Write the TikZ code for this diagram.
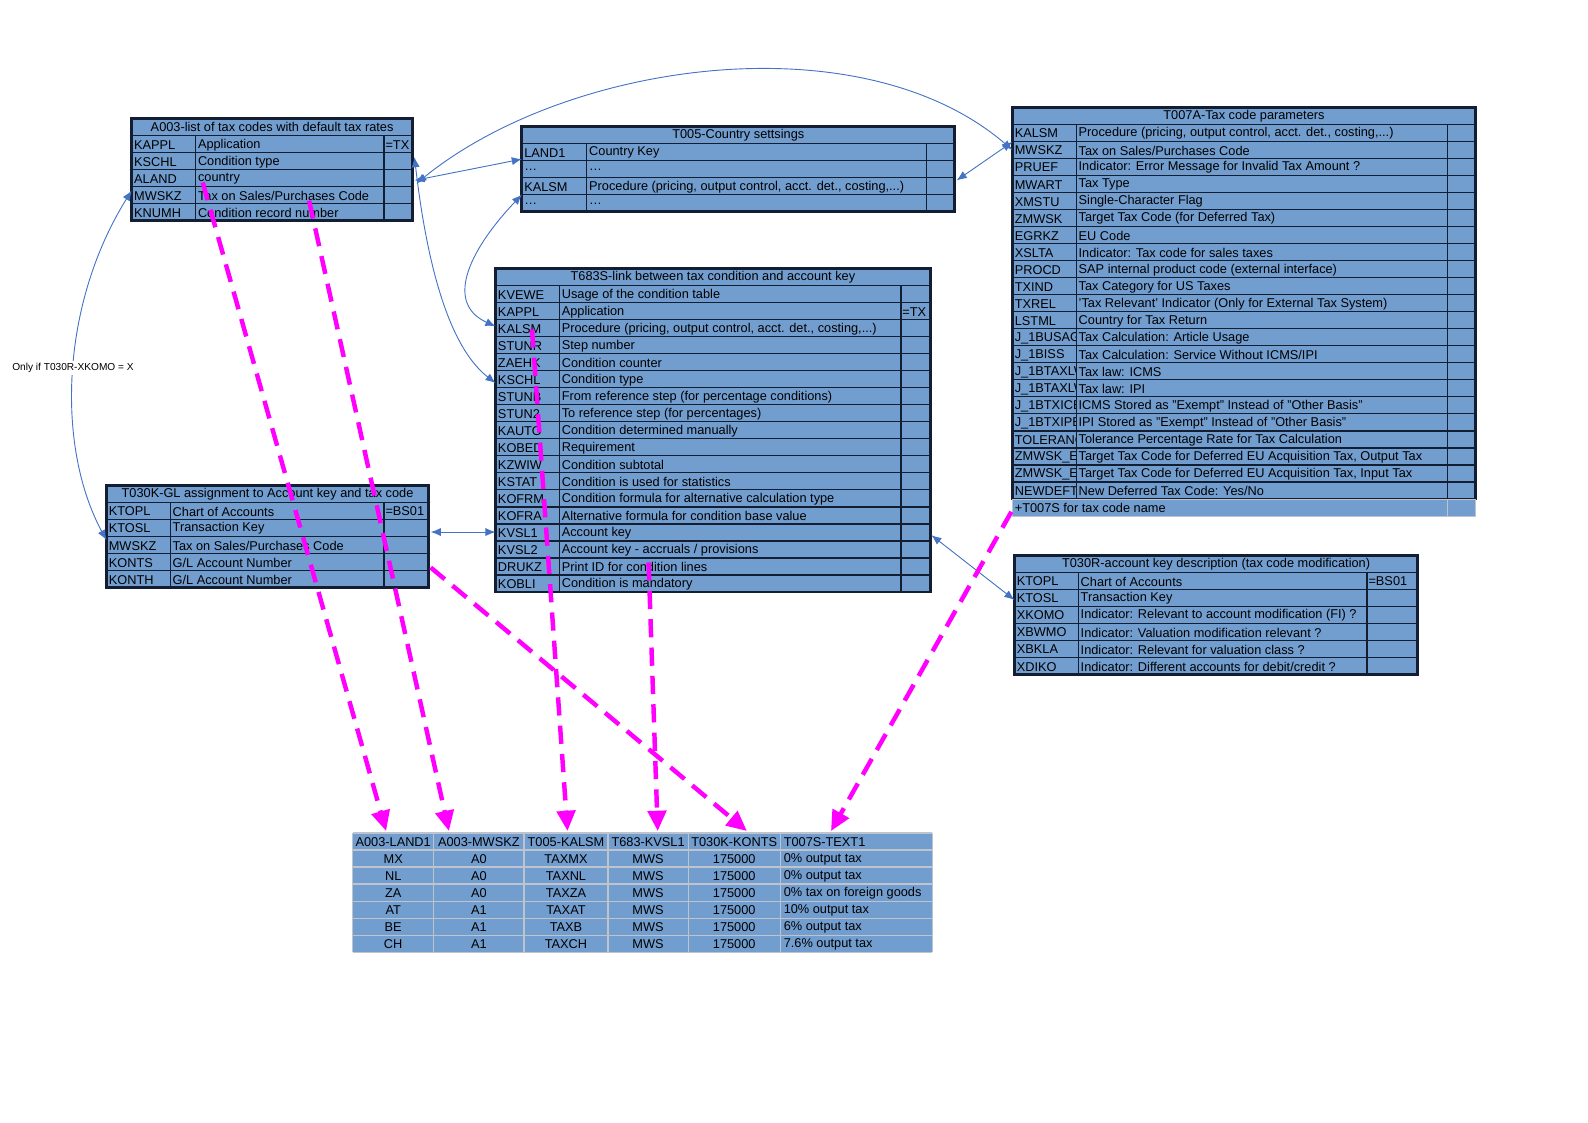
\documentclass[tikz,border=0pt]{standalone}
\usepackage{fontspec}
\setmainfont{Liberation Sans}
\usetikzlibrary{arrows.meta}
\definecolor{tf}{RGB}{114,157,207}
\definecolor{tb}{RGB}{20,30,50}
\definecolor{cb}{RGB}{68,114,196}
\definecolor{mg}{RGB}{255,0,255}
\definecolor{gl}{RGB}{190,195,205}
\tikzset{
 cell/.style={draw=tb,line width=0.6pt,fill=tf},
 txt/.style={inner sep=0pt,anchor=west,font=\fontsize{6.3}{7}\selectfont},
 ctxt/.style={inner sep=0pt,font=\fontsize{6.3}{7}\selectfont},
 conn/.style={cb,line width=0.45pt,{Latex[length=5pt,width=4pt]}-{Latex[length=5pt,width=4pt]}},
 mag/.style={mg,line width=2.2pt,dash pattern=on 9pt off 5pt,-{Triangle[length=10pt,width=9pt]}},
}
\newcommand\tstart[6]{\gdef\xa{#1}\gdef\xb{#2}\gdef\xc{#3}\gdef\xd{#4}\gdef\ty{#5}%
 \draw[cell] (#1,#5) rectangle (#4,#5+16.8);
 \node[ctxt] at ({(#1+#4)/2},#5+8.4) {#6};
 \pgfmathsetmacro\tmp{#5+16.8}\global\let\ry\tmp}
\newcommand\trow[3]{%
 \draw[cell] (\xa,\ry) rectangle (\xb,\ry+16.8);
 \draw[cell] (\xb,\ry) rectangle (\xc,\ry+16.8);
 \draw[cell] (\xc,\ry) rectangle (\xd,\ry+16.8);
 \begin{scope}\clip (\xa,\ry) rectangle (\xb-1,\ry+16.8);
 \node[txt] at (\xa+2,\ry+9) {#1};\end{scope}
 \node[txt] at (\xb+2,\ry+9) {#2};
 \node[txt] at (\xc+1,\ry+9) {#3};
 \pgfmathsetmacro\tmp{\ry+16.8}\global\let\ry\tmp}
\newcommand\tend{\draw[tb,line width=1.4pt] (\xa,\ty) rectangle (\xd,\ry);}
\begin{document}
\begin{tikzpicture}[x=0.5pt,y=-0.5pt]
% A003
\tstart{130}{193}{379}{407}{117}{A003-list of tax codes with default tax rates}
\trow{KAPPL}{Application}{=TX}
\trow{KSCHL}{Condition type}{}
\trow{ALAND}{country}{}
\trow{MWSKZ}{Tax on Sales/Purchases Code}{}
\trow{KNUMH}{Condition record number}{}
\tend
% T005
\tstart{515}{579}{914}{942}{125}{T005-Country settsings}
\trow{LAND1}{Country Key}{}
\trow{\dots}{\dots}{}
\trow{KALSM}{Procedure (pricing, output control, acct. det., costing,...)}{}
\trow{\dots}{\dots}{}
\tend
% T683S
\tstart{489}{552}{889}{918}{265}{T683S-link between tax condition and account key}
\trow{KVEWE}{Usage of the condition table}{}
\trow{KAPPL}{Application}{=TX}
\trow{KALSM}{Procedure (pricing, output control, acct. det., costing,...)}{}
\trow{STUNR}{Step number}{}
\trow{ZAEHK}{Condition counter}{}
\trow{KSCHL}{Condition type}{}
\trow{STUNB}{From reference step (for percentage conditions)}{}
\trow{STUN2}{To reference step (for percentages)}{}
\trow{KAUTO}{Condition determined manually}{}
\trow{KOBED}{Requirement}{}
\trow{KZWIW}{Condition subtotal}{}
\trow{KSTAT}{Condition is used for statistics}{}
\trow{KOFRM}{Condition formula for alternative calculation type}{}
\trow{KOFRA}{Alternative formula for condition base value}{}
\trow{KVSL1}{Account key}{}
\trow{KVSL2}{Account key - accruals / provisions}{}
\trow{DRUKZ}{Print ID for condition lines}{}
\trow{KOBLI}{Condition is mandatory}{}
\tend
% T030K
\tstart{105}{168}{379}{423}{479}{T030K-GL assignment to Account key and tax code}
\trow{KTOPL}{Chart of Accounts}{=BS01}
\trow{KTOSL}{Transaction Key}{}
\trow{MWSKZ}{Tax on Sales/Purchases Code}{}
\trow{KONTS}{G/L Account Number}{}
\trow{KONTH}{G/L Account Number}{}
\tend
% T007A
\tstart{999}{1062}{1428}{1456}{106}{T007A-Tax code parameters}
\trow{KALSM}{Procedure (pricing, output control, acct. det., costing,...)}{}
\trow{MWSKZ}{Tax on Sales/Purchases Code}{}
\trow{PRUEF}{Indicator: Error Message for Invalid Tax Amount ?}{}
\trow{MWART}{Tax Type}{}
\trow{XMSTU}{Single-Character Flag}{}
\trow{ZMWSK}{Target Tax Code (for Deferred Tax)}{}
\trow{EGRKZ}{EU Code}{}
\trow{XSLTA}{Indicator: Tax code for sales taxes}{}
\trow{PROCD}{SAP internal product code (external interface)}{}
\trow{TXIND}{Tax Category for US Taxes}{}
\trow{TXREL}{'Tax Relevant' Indicator (Only for External Tax System)}{}
\trow{LSTML}{Country for Tax Return}{}
\trow{J\_1BUSAGE}{Tax Calculation: Article Usage}{}
\trow{J\_1BISS}{Tax Calculation: Service Without ICMS/IPI}{}
\trow{J\_1BTAXLW1}{Tax law: ICMS}{}
\trow{J\_1BTAXLW2}{Tax law: IPI}{}
\trow{J\_1BTXICEX}{ICMS Stored as "Exempt" Instead of "Other Basis"}{}
\trow{J\_1BTXIPEX}{IPI Stored as "Exempt" Instead of "Other Basis"}{}
\trow{TOLERANCE}{Tolerance Percentage Rate for Tax Calculation}{}
\trow{ZMWSK\_EU}{Target Tax Code for Deferred EU Acquisition Tax, Output Tax}{}
\trow{ZMWSK\_EV}{Target Tax Code for Deferred EU Acquisition Tax, Input Tax}{}
\trow{NEWDEFTX}{New Deferred Tax Code: Yes/No}{}
\tend
\draw[gl,fill=tf,line width=0.5pt] (999,\ry) rectangle (1428,\ry+16.8);
\draw[gl,fill=tf,line width=0.5pt] (1428,\ry) rectangle (1456,\ry+16.8);
\node[txt] (t007s) at (1001,\ry+9) {+T007S for tax code name};
% T030R
\tstart{1001}{1064}{1349}{1399}{548}{T030R-account key description (tax code modification)}
\trow{KTOPL}{Chart of Accounts}{=BS01}
\trow{KTOSL}{Transaction Key}{}
\trow{XKOMO}{Indicator: Relevant to account modification (FI) ?}{}
\trow{XBWMO}{Indicator: Valuation modification relevant ?}{}
\trow{XBKLA}{Indicator: Relevant for valuation class ?}{}
\trow{XDIKO}{Indicator: Different accounts for debit/credit ?}{}
\tend
% bottom table
\fill[tf] (348,822) rectangle (920,939.6);
\foreach \i in {0,...,7}{\draw[gl,line width=0.6pt] (348,822+16.8*\i) -- (920,822+16.8*\i);}
\foreach \xx in {348,428,517,600,679,770,920}{\draw[gl,line width=0.6pt] (\xx,822) -- (\xx,939.6);}
\foreach \h [count=\c] in {A003-LAND1,A003-MWSKZ,T005-KALSM,T683-KVSL1,T030K-KONTS}{
 \pgfmathsetmacro\cx{{0,388,472.5,558.5,639.5,724.5}[\c]}
 \node[ctxt] at (\cx,831) {\h};}
\node[txt] at (773,831) {T007S-TEXT1};
\foreach \a/\b/\cc/\t [count=\r] in {MX/A0/TAXMX/0\% output tax,NL/A0/TAXNL/0\% output tax,ZA/A0/TAXZA/0\% tax on foreign goods,AT/A1/TAXAT/10\% output tax,BE/A1/TAXB/6\% output tax,CH/A1/TAXCH/7.6\% output tax}{
 \node[ctxt] at (388,831+16.8*\r) {\a};
 \node[ctxt] at (472.5,831+16.8*\r) {\b};
 \node[ctxt] at (558.5,831+16.8*\r) {\cc};
 \node[ctxt] at (639.5,831+16.8*\r) {MWS};
 \node[ctxt] at (724.5,831+16.8*\r) {175000};
 \node[txt] at (773,831+16.8*\r) {\t};}
% coordinates
\coordinate (a1) at (409,178); \coordinate (t5l) at (515,157);
\coordinate (a2) at (409,155); \coordinate (t683k) at (489,378);
\coordinate (t5k) at (515,192); \coordinate (t683a) at (489,322);
\coordinate (t5r) at (944,178); \coordinate (t7k) at (999,140);
\coordinate (t7m) at (999,148); \coordinate (a3) at (411,181);
\coordinate (k1) at (425,525); \coordinate (t683v) at (489,525);
\coordinate (t683r) at (919,528); \coordinate (r1) at (1001,592);
\coordinate (a4) at (130,188); \coordinate (k2) at (105,533);
% blue connectors
\draw[conn] (a1) -- (t5l);
\draw[conn] (a3) .. controls (560,60) and (850,20) .. (t7m);
\draw[conn] (t5r) -- (t7k);
\draw[conn] (a2) .. controls (420,250) and (440,340) .. (t683k);
\draw[conn] (t5k) .. controls (460,250) and (440,300) .. (t683a);
\draw[conn] (k1) -- (t683v);
\draw[conn] (t683r) -- (r1);
\draw[conn] (a4) .. controls (60,300) and (55,440) .. (k2);
\node[ctxt,font=\fontsize{5}{6}\selectfont,fill=white,inner sep=1pt] (lbl) at (72,363) {Only if T030R-XKOMO = X};
% magenta arrows
\coordinate (m1s) at (200,180); \coordinate (m1e) at (381,820);
\coordinate (m2s) at (305,198); \coordinate (m2e) at (443,820);
\coordinate (m3s) at (525,325); \coordinate (m3e) at (560,820);
\coordinate (m4s) at (640,555); \coordinate (m4e) at (649,820);
\coordinate (m5s) at (425,560); \coordinate (m5e) at (737,820);
\coordinate (m6s) at (998,505); \coordinate (m6e) at (820,820);
\foreach \m in {1,...,6}{\draw[mag] (m\m s) -- (m\m e);}
\pgfresetboundingbox
\path[use as bounding box] (0,0) rectangle (1567,1108);
\end{tikzpicture}
\end{document}
